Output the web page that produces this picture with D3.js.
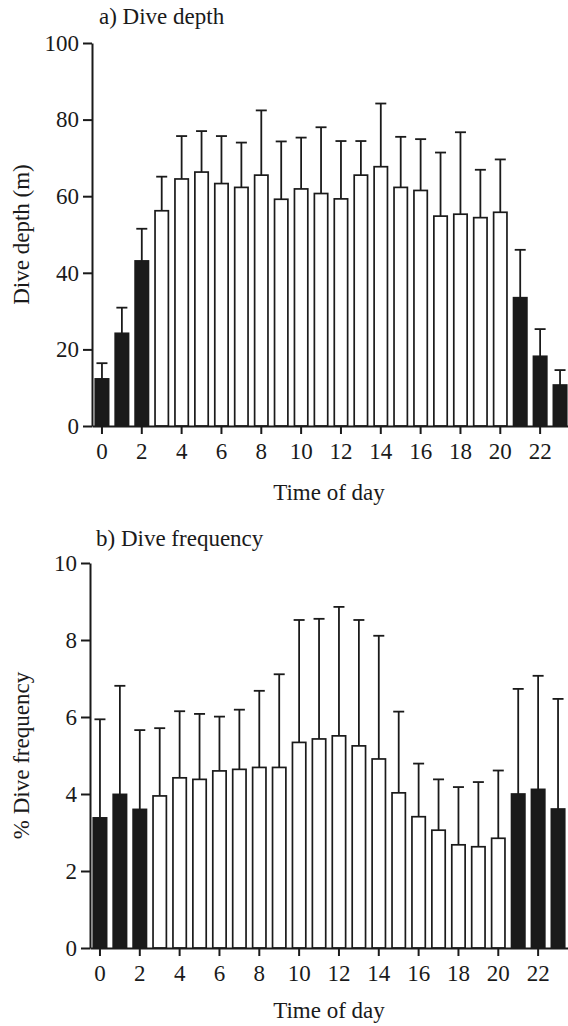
<!DOCTYPE html>
<html>
<head>
<meta charset="utf-8">
<script src="https://cdn.jsdelivr.net/npm/d3@7"></script>
<style>
  html, body { margin: 0; padding: 0; background: #fff; }
  svg { display: block; }
</style>
</head>
<body>
<svg id="chart" width="568" height="1026"></svg>
<script>
// Hour of day (categories)
const hours = [0,1,2,3,4,5,6,7,8,9,10,11,12,13,14,15,16,17,18,19,20,21,22,23];
// Hours drawn as filled (night) bars
const nightHours = [0,1,2,21,22,23];
// Hour ticks that carry a label
const hourTicks = [0,2,4,6,8,10,12,14,16,18,20,22];

// a) Dive depth (m): mean and standard deviation per hour
const depthMean = [12.3,24.2,43.1,56.2,64.5,66.3,63.3,62.3,65.5,59.2,61.9,60.7,59.3,65.5,67.7,62.3,61.5,54.8,55.3,54.4,55.8,33.5,18.2,10.7];
const depthSD   = [4.1,6.7,8.4,8.9,11.2,10.7,12.4,11.7,16.9,15.1,13.4,17.3,15.1,8.9,16.5,13.2,13.4,16.6,21.4,12.5,13.8,12.5,7.1,3.9];
const depthTicks = [0,20,40,60,80,100];

// b) Dive frequency (%): mean and standard deviation per hour
const freqMean = [3.38,3.99,3.60,3.95,4.42,4.38,4.60,4.64,4.69,4.69,5.34,5.43,5.51,5.25,4.91,4.03,3.41,3.06,2.68,2.63,2.85,4.00,4.12,3.61];
const freqSD   = [2.56,2.82,2.06,1.76,1.73,1.70,1.41,1.55,1.99,2.42,3.18,3.12,3.35,3.27,3.20,2.11,1.38,1.32,1.50,1.68,1.76,2.73,2.95,2.86];
const freqTicks = [0,2,4,6,8,10];

const ink = "#1a1a1a";
const fontSize = 23;
const serif = '"Liberation Serif"';
const svg = d3.select("#chart");

function styleText(sel) {
  sel.attr("font-family", null)
     .style("font-family", serif)
     .attr("font-size", null)
     .style("font-size", fontSize + "px")
     .attr("fill", ink);
}

function panel(opts) {
  const { left, right, top, bottom, yMax, yTicks, mean, sd, title, titleX, titleY, yLabel, xLabelY } = opts;

  const x = d3.scaleBand()
    .domain(hours)
    .range([left, right])
    .paddingInner(0.33)
    .paddingOuter(0.165);

  const y = d3.scaleLinear().domain([0, yMax]).range([bottom, top]);

  const g = svg.append("g");

  const rows = hours.map((h, i) => ({ h, m: mean[i], s: sd[i], night: nightHours.includes(h) }));

  // error bars (upper whisker only)
  const capHalf = 5.5;
  const eb = g.append("g").attr("stroke", ink).attr("stroke-width", 1.8).attr("fill", "none");
  eb.selectAll("line.v").data(rows).join("line")
    .attr("class", "v")
    .attr("x1", d => x(d.h) + x.bandwidth() / 2)
    .attr("x2", d => x(d.h) + x.bandwidth() / 2)
    .attr("y1", d => y(d.m))
    .attr("y2", d => y(d.m + d.s));
  eb.selectAll("line.c").data(rows).join("line")
    .attr("class", "c")
    .attr("x1", d => x(d.h) + x.bandwidth() / 2 - capHalf)
    .attr("x2", d => x(d.h) + x.bandwidth() / 2 + capHalf)
    .attr("y1", d => y(d.m + d.s))
    .attr("y2", d => y(d.m + d.s));

  // bars
  g.append("g").selectAll("rect").data(rows).join("rect")
    .attr("x", d => x(d.h))
    .attr("width", x.bandwidth())
    .attr("y", d => y(d.m))
    .attr("height", d => y(0) - y(d.m))
    .attr("fill", d => d.night ? ink : "#fff")
    .attr("stroke", ink)
    .attr("stroke-width", 1.7);

  // y axis
  const yAxis = g.append("g")
    .attr("transform", `translate(${left},0)`)
    .call(d3.axisLeft(y).tickValues(yTicks).tickSize(9).tickPadding(4).tickSizeOuter(0));
  yAxis.attr("font-family", null).style("font-family", serif);
  yAxis.select(".domain").attr("stroke", ink).attr("stroke-width", 2);
  yAxis.selectAll(".tick line").attr("stroke", ink).attr("stroke-width", 2);
  yAxis.selectAll(".tick text").call(styleText);

  // x axis
  const xAxis = g.append("g")
    .attr("transform", `translate(0,${bottom})`)
    .call(d3.axisBottom(x).tickValues(hourTicks).tickSize(8).tickPadding(9).tickSizeOuter(0));
  xAxis.attr("font-family", null).style("font-family", serif);
  xAxis.select(".domain").attr("stroke", ink).attr("stroke-width", 2);
  xAxis.selectAll(".tick line").attr("stroke", ink).attr("stroke-width", 2);
  xAxis.selectAll(".tick text").call(styleText);

  // panel title
  g.append("text")
    .attr("x", titleX).attr("y", titleY)
    .call(styleText)
    .text(title);

  // y axis label
  g.append("text")
    .attr("transform", `translate(29,${(top + bottom) / 2}) rotate(-90)`)
    .attr("text-anchor", "middle")
    .call(styleText)
    .text(yLabel);

  // x axis label
  g.append("text")
    .attr("x", 329).attr("y", xLabelY)
    .attr("text-anchor", "middle")
    .call(styleText)
    .text("Time of day");
}

panel({
  left: 92, right: 570, top: 43, bottom: 426,
  yMax: 100, yTicks: depthTicks, mean: depthMean, sd: depthSD,
  title: "a) Dive depth", titleX: 99, titleY: 24,
  yLabel: "Dive depth (m)", xLabelY: 500
});

panel({
  left: 90, right: 568, top: 563, bottom: 948,
  yMax: 10, yTicks: freqTicks, mean: freqMean, sd: freqSD,
  title: "b) Dive frequency", titleX: 96, titleY: 546,
  yLabel: "% Dive frequency", xLabelY: 1018
});
</script>
</body>
</html>
